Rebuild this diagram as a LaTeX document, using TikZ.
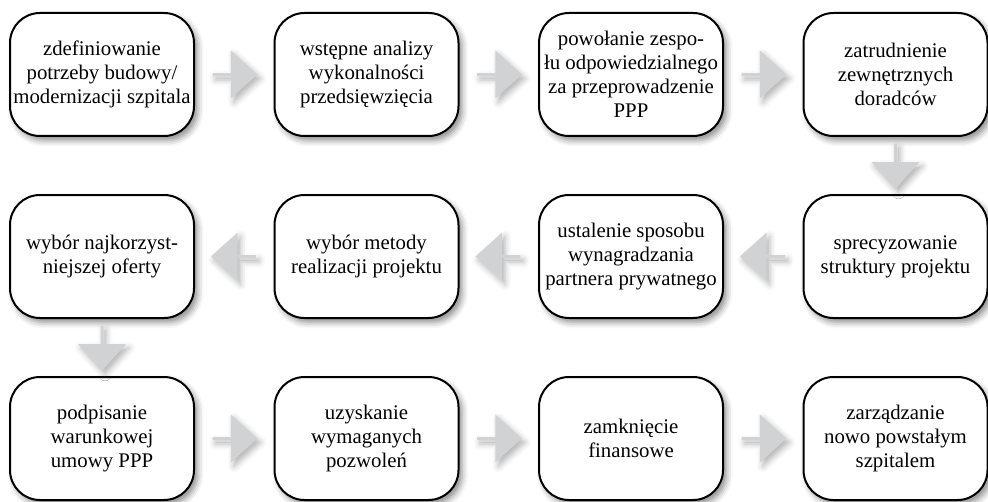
\documentclass[tikz,border=0pt]{standalone}
\usepackage{fontspec}
\setmainfont{Liberation Serif}
\usetikzlibrary{shapes.arrows,shadows.blur,calc}
\tikzset{every picture/.style={line width=0.75pt}}
\definecolor{arrowgray}{RGB}{209,210,212}

\begin{document}
\begin{tikzpicture}[x=0.5pt, y=-0.5pt,
        every node/.style={font=\fontsize{10.4}{12}\selectfont},
        proc/.style={draw, line width=1pt, rounded corners=15pt, fill=white, align=center,
            minimum width=92pt, minimum height=61.5pt, inner sep=0.5pt,
            blur shadow={shadow xshift=1.8pt, shadow yshift=-2.2pt, shadow blur radius=3pt, shadow opacity=45}},
        flow/.style={single arrow, fill=arrowgray, inner sep=0pt,
            minimum height=22.5pt, minimum width=24pt,
            single arrow head extend=6pt, single arrow tip angle=84,
            blur shadow={shadow xshift=1.5pt, shadow yshift=-2pt, shadow blur radius=3pt, shadow opacity=30}}]
        \useasboundingbox (0,0) rectangle (988,502);
        % pierwszy wiersz
        \node[proc] (s1)  at (102, 74.5)   {zdefiniowanie\\potrzeby budowy/\\modernizacji szpitala};
        \node[proc] (s2)  at (366.5, 74.5) {wstępne analizy\\wykonalności\\przedsięwzięcia};
        \node[proc] (s3)  at (631, 74.5)   {powołanie zespo-\\łu odpowiedzialnego\\za przeprowadzenie\\PPP};
        \node[proc] (s4)  at (895.5, 74.5) {zatrudnienie\\zewnętrznych\\doradców};
        % drugi wiersz
        \node[proc] (s5)  at (895.5, 256.5) {sprecyzowanie\\struktury projektu};
        \node[proc] (s6)  at (631, 256.5)   {ustalenie sposobu\\wynagradzania\\partnera prywatnego};
        \node[proc] (s7)  at (366.5, 256.5) {wybór metody\\realizacji projektu};
        \node[proc] (s8)  at (102, 256.5)   {wybór najkorzyst-\\niejszej oferty};
        % trzeci wiersz
        \node[proc] (s9)  at (102, 438.5)   {podpisanie\\warunkowej\\umowy PPP};
        \node[proc] (s10) at (366.5, 438.5) {uzyskanie\\wymaganych\\pozwoleń};
        \node[proc] (s11) at (631, 438.5)   {zamknięcie\\finansowe};
        \node[proc] (s12) at (895.5, 438.5) {zarządzanie\\nowo powstałym\\szpitalem};
        % strzałki
        \node[flow] (a1)  at ($(s1)!0.5!(s2)$) {};
        \node[flow] (a2)  at ($(s2)!0.5!(s3)$) {};
        \node[flow] (a3)  at ($(s3)!0.5!(s4)$) {};
        \node[flow, shape border rotate=270] (a4) at ($(s4)!0.5!(s5)$) {};
        \node[flow, shape border rotate=180] (a5) at ($(s5)!0.5!(s6)$) {};
        \node[flow, shape border rotate=180] (a6) at ($(s6)!0.5!(s7)$) {};
        \node[flow, shape border rotate=180] (a7) at ($(s7)!0.5!(s8)$) {};
        \node[flow, shape border rotate=270] (a8) at ($(s8)!0.5!(s9)$) {};
        \node[flow] (a9)  at ($(s9)!0.5!(s10)$) {};
        \node[flow] (a10) at ($(s10)!0.5!(s11)$) {};
        \node[flow] (a11) at ($(s11)!0.5!(s12)$) {};
    \end{tikzpicture}
\end{document}
